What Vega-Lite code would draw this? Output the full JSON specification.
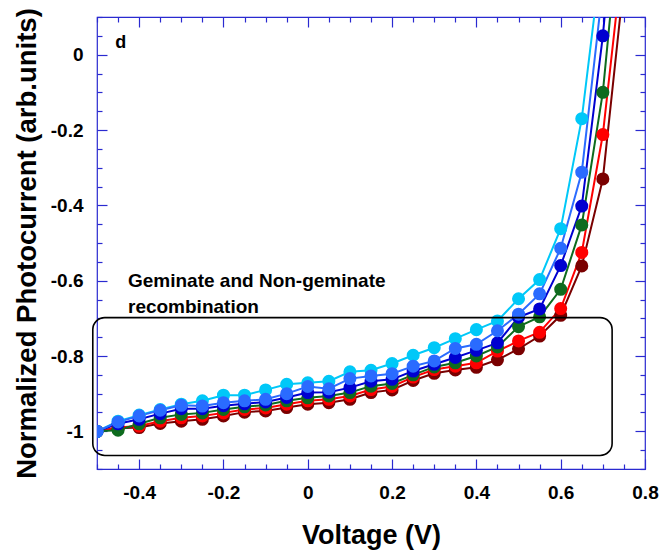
{
  "$schema": "https://vega.github.io/schema/vega-lite/v6.json",
  "width": 548,
  "height": 452,
  "autosize": {"type": "none"},
  "padding": {"left": 97, "top": 17, "right": 19, "bottom": 85},
  "background": "white",
  "config": {
    "view": {"stroke": "#2a2ad0", "strokeWidth": 1.2},
    "font": "Liberation Sans",
    "axis": {"domain": false, "grid": false, "ticks": true, "zindex": 1, "tickColor": "#2a2ad0", "tickWidth": 1.2, "labelFlush": false, "labelOverlap": false}
  },
  "datasets": {
    "curves": [
      {"s":"dr","v":-0.5,"j":-1.0},{"s":"dr","v":-0.45,"j":-0.992},{"s":"dr","v":-0.4,"j":-0.99},{"s":"dr","v":-0.35,"j":-0.979},{"s":"dr","v":-0.3,"j":-0.973},{"s":"dr","v":-0.25,"j":-0.968},{"s":"dr","v":-0.2,"j":-0.959},{"s":"dr","v":-0.15,"j":-0.949},{"s":"dr","v":-0.1,"j":-0.946},{"s":"dr","v":-0.05,"j":-0.937},{"s":"dr","v":0,"j":-0.928},{"s":"dr","v":0.05,"j":-0.924},{"s":"dr","v":0.1,"j":-0.915},{"s":"dr","v":0.15,"j":-0.897},{"s":"dr","v":0.2,"j":-0.89},{"s":"dr","v":0.25,"j":-0.865},{"s":"dr","v":0.3,"j":-0.846},{"s":"dr","v":0.35,"j":-0.837},{"s":"dr","v":0.4,"j":-0.83},{"s":"dr","v":0.45,"j":-0.81},{"s":"dr","v":0.5,"j":-0.781},{"s":"dr","v":0.55,"j":-0.747},{"s":"dr","v":0.6,"j":-0.692},{"s":"dr","v":0.65,"j":-0.561},{"s":"dr","v":0.7,"j":-0.33},{"s":"dr","v":0.75,"j":0.195},
      {"s":"r","v":-0.5,"j":-1.0},{"s":"r","v":-0.45,"j":-0.99},{"s":"r","v":-0.4,"j":-0.986},{"s":"r","v":-0.35,"j":-0.973},{"s":"r","v":-0.3,"j":-0.964},{"s":"r","v":-0.25,"j":-0.959},{"s":"r","v":-0.2,"j":-0.951},{"s":"r","v":-0.15,"j":-0.942},{"s":"r","v":-0.1,"j":-0.938},{"s":"r","v":-0.05,"j":-0.928},{"s":"r","v":0,"j":-0.919},{"s":"r","v":0.05,"j":-0.915},{"s":"r","v":0.1,"j":-0.906},{"s":"r","v":0.15,"j":-0.889},{"s":"r","v":0.2,"j":-0.881},{"s":"r","v":0.25,"j":-0.856},{"s":"r","v":0.3,"j":-0.836},{"s":"r","v":0.35,"j":-0.827},{"s":"r","v":0.4,"j":-0.818},{"s":"r","v":0.45,"j":-0.787},{"s":"r","v":0.5,"j":-0.76},{"s":"r","v":0.55,"j":-0.737},{"s":"r","v":0.6,"j":-0.674},{"s":"r","v":0.65,"j":-0.525},{"s":"r","v":0.7,"j":-0.212},{"s":"r","v":0.75,"j":0.29},
      {"s":"g","v":-0.5,"j":-1.0},{"s":"g","v":-0.45,"j":-0.997},{"s":"g","v":-0.4,"j":-0.98},{"s":"g","v":-0.35,"j":-0.964},{"s":"g","v":-0.3,"j":-0.955},{"s":"g","v":-0.25,"j":-0.951},{"s":"g","v":-0.2,"j":-0.942},{"s":"g","v":-0.15,"j":-0.935},{"s":"g","v":-0.1,"j":-0.93},{"s":"g","v":-0.05,"j":-0.919},{"s":"g","v":0,"j":-0.911},{"s":"g","v":0.05,"j":-0.906},{"s":"g","v":0.1,"j":-0.897},{"s":"g","v":0.15,"j":-0.88},{"s":"g","v":0.2,"j":-0.873},{"s":"g","v":0.25,"j":-0.85},{"s":"g","v":0.3,"j":-0.829},{"s":"g","v":0.35,"j":-0.818},{"s":"g","v":0.4,"j":-0.8},{"s":"g","v":0.45,"j":-0.776},{"s":"g","v":0.5,"j":-0.722},{"s":"g","v":0.55,"j":-0.696},{"s":"g","v":0.6,"j":-0.623},{"s":"g","v":0.65,"j":-0.452},{"s":"g","v":0.7,"j":-0.1},{"s":"g","v":0.75,"j":0.48},
      {"s":"b","v":-0.5,"j":-1.0},{"s":"b","v":-0.45,"j":-0.98},{"s":"b","v":-0.4,"j":-0.968},{"s":"b","v":-0.35,"j":-0.953},{"s":"b","v":-0.3,"j":-0.94},{"s":"b","v":-0.25,"j":-0.94},{"s":"b","v":-0.2,"j":-0.932},{"s":"b","v":-0.15,"j":-0.927},{"s":"b","v":-0.1,"j":-0.922},{"s":"b","v":-0.05,"j":-0.91},{"s":"b","v":0,"j":-0.897},{"s":"b","v":0.05,"j":-0.896},{"s":"b","v":0.1,"j":-0.884},{"s":"b","v":0.15,"j":-0.867},{"s":"b","v":0.2,"j":-0.862},{"s":"b","v":0.25,"j":-0.84},{"s":"b","v":0.3,"j":-0.822},{"s":"b","v":0.35,"j":-0.804},{"s":"b","v":0.4,"j":-0.785},{"s":"b","v":0.45,"j":-0.765},{"s":"b","v":0.5,"j":-0.697},{"s":"b","v":0.55,"j":-0.675},{"s":"b","v":0.6,"j":-0.56},{"s":"b","v":0.65,"j":-0.402},{"s":"b","v":0.7,"j":0.05},{"s":"b","v":0.75,"j":0.66},
      {"s":"c","v":-0.5,"j":-1.0},{"s":"c","v":-0.45,"j":-0.973},{"s":"c","v":-0.4,"j":-0.957},{"s":"c","v":-0.35,"j":-0.942},{"s":"c","v":-0.3,"j":-0.928},{"s":"c","v":-0.25,"j":-0.919},{"s":"c","v":-0.2,"j":-0.904},{"s":"c","v":-0.15,"j":-0.904},{"s":"c","v":-0.1,"j":-0.89},{"s":"c","v":-0.05,"j":-0.875},{"s":"c","v":0,"j":-0.871},{"s":"c","v":0.05,"j":-0.867},{"s":"c","v":0.1,"j":-0.842},{"s":"c","v":0.15,"j":-0.838},{"s":"c","v":0.2,"j":-0.82},{"s":"c","v":0.25,"j":-0.798},{"s":"c","v":0.3,"j":-0.778},{"s":"c","v":0.35,"j":-0.754},{"s":"c","v":0.4,"j":-0.73},{"s":"c","v":0.45,"j":-0.707},{"s":"c","v":0.5,"j":-0.648},{"s":"c","v":0.55,"j":-0.597},{"s":"c","v":0.6,"j":-0.462},{"s":"c","v":0.65,"j":-0.17},{"s":"c","v":0.7,"j":0.29},
      {"s":"m","v":-0.5,"j":-1.0},{"s":"m","v":-0.45,"j":-0.975},{"s":"m","v":-0.4,"j":-0.959},{"s":"m","v":-0.35,"j":-0.944},{"s":"m","v":-0.3,"j":-0.931},{"s":"m","v":-0.25,"j":-0.933},{"s":"m","v":-0.2,"j":-0.924},{"s":"m","v":-0.15,"j":-0.919},{"s":"m","v":-0.1,"j":-0.915},{"s":"m","v":-0.05,"j":-0.9},{"s":"m","v":0,"j":-0.881},{"s":"m","v":0.05,"j":-0.887},{"s":"m","v":0.1,"j":-0.86},{"s":"m","v":0.15,"j":-0.853},{"s":"m","v":0.2,"j":-0.847},{"s":"m","v":0.25,"j":-0.827},{"s":"m","v":0.3,"j":-0.813},{"s":"m","v":0.35,"j":-0.78},{"s":"m","v":0.4,"j":-0.769},{"s":"m","v":0.45,"j":-0.733},{"s":"m","v":0.5,"j":-0.689},{"s":"m","v":0.55,"j":-0.635},{"s":"m","v":0.6,"j":-0.514},{"s":"m","v":0.65,"j":-0.312},{"s":"m","v":0.7,"j":0.18}
    ],
    "one": [{}]
  },
  "resolve": {"axis": {"x": "independent", "y": "independent"}},
  "layer": [
    {
      "data": {"name": "curves"},
      "mark": {"type": "line", "clip": true, "strokeWidth": 2},
      "encoding": {
        "x": {
          "field": "v", "type": "quantitative",
          "scale": {"domain": [-0.5, 0.8], "nice": false, "zero": false},
          "axis": {
            "orient": "bottom", "offset": -10,
            "values": [-0.4,-0.2,0,0.2,0.4,0.6,0.8],
            "tickSize": 10,
            "labelExpr": "(round(datum.value*10)/10)+''",
            "labelFontSize": 19, "labelFontWeight": "bold", "labelColor": "black",
            "labelPadding": 14,
            "title": "Voltage (V)", "titleFontSize": 27, "titleFontWeight": "bold", "titleColor": "black",
            "titleY": 84, "titleBaseline": "alphabetic"
          }
        },
        "y": {
          "field": "j", "type": "quantitative",
          "scale": {"domain": [-1.1, 0.1], "nice": false, "zero": false},
          "axis": {
            "orient": "left", "offset": -10,
            "values": [-1,-0.8,-0.6,-0.4,-0.2,0],
            "tickSize": 10,
            "labelExpr": "(round(datum.value*10)/10)+''",
            "labelFontSize": 19, "labelFontWeight": "bold", "labelColor": "black",
            "labelPadding": 14,
            "title": "Normalized Photocurrent (arb.units)", "titleFontSize": 27.5, "titleFontWeight": "bold", "titleColor": "black",
            "titleX": -72, "titleY": 226, "titleAngle": -90, "titleBaseline": "alphabetic", "titleAlign": "center"
          }
        },
        "color": {
          "field": "s", "type": "nominal",
          "scale": {"domain": ["dr","r","g","b","c","m"], "range": ["#7a0000","#ff0000","#0e6b1e","#0000d0","#00c8f8","#2a6bff"]},
          "legend": null
        }
      }
    },
    {
      "data": {"name": "curves"},
      "mark": {"type": "point", "filled": true, "size": 170, "opacity": 1, "clip": true},
      "encoding": {
        "x": {
          "field": "v", "type": "quantitative",
          "scale": {"domain": [-0.5, 0.8], "nice": false, "zero": false},
          "axis": {"orient": "top", "offset": -10, "values": [-0.4,-0.2,0,0.2,0.4,0.6,0.8], "tickSize": 10, "labels": false, "title": null}
        },
        "y": {
          "field": "j", "type": "quantitative",
          "scale": {"domain": [-1.1, 0.1], "nice": false, "zero": false},
          "axis": {"orient": "right", "offset": -10, "values": [-1,-0.8,-0.6,-0.4,-0.2,0], "tickSize": 10, "labels": false, "title": null}
        },
        "color": {
          "field": "s", "type": "nominal",
          "scale": {"domain": ["dr","r","g","b","c","m"], "range": ["#7a0000","#ff0000","#0e6b1e","#0000d0","#00c8f8","#2a6bff"]},
          "legend": null
        }
      }
    },
    {
      "data": {"name": "one"},
      "mark": {"type": "rect", "fillOpacity": 0, "stroke": "black", "strokeWidth": 1.6, "cornerRadius": 12},
      "encoding": {
        "x": {"datum": -0.51, "type": "quantitative", "scale": {"domain": [-0.5, 0.8], "nice": false, "zero": false},
          "axis": {"orient": "bottom", "offset": -5, "values": [-0.5,-0.45,-0.35,-0.3,-0.25,-0.15,-0.1,-0.05,0.05,0.1,0.15,0.25,0.3,0.35,0.45,0.5,0.55,0.65,0.7,0.75], "tickSize": 5, "labels": false, "title": null}},
        "x2": {"datum": 0.722},
        "y": {"datum": -0.698, "type": "quantitative", "scale": {"domain": [-1.1, 0.1], "nice": false, "zero": false},
          "axis": {"orient": "left", "offset": -5, "values": [-1.1,-1.05,-0.95,-0.9,-0.85,-0.75,-0.7,-0.65,-0.55,-0.5,-0.45,-0.35,-0.3,-0.25,-0.15,-0.1,-0.05,0.05,0.1], "tickSize": 5, "labels": false, "title": null}},
        "y2": {"datum": -1.064}
      }
    },
    {
      "data": {"name": "one"},
      "mark": {"type": "text", "text": "Geminate and Non-geminate", "align": "left", "baseline": "alphabetic", "fontSize": 19, "fontWeight": "bold", "color": "black"},
      "encoding": {
        "x": {"datum": -0.4265, "type": "quantitative", "scale": {"domain": [-0.5, 0.8], "nice": false, "zero": false},
          "axis": {"orient": "top", "offset": -5, "values": [-0.5,-0.45,-0.35,-0.3,-0.25,-0.15,-0.1,-0.05,0.05,0.1,0.15,0.25,0.3,0.35,0.45,0.5,0.55,0.65,0.7,0.75], "tickSize": 5, "labels": false, "title": null}},
        "y": {"datum": -0.618, "type": "quantitative", "scale": {"domain": [-1.1, 0.1], "nice": false, "zero": false},
          "axis": {"orient": "right", "offset": -5, "values": [-1.1,-1.05,-0.95,-0.9,-0.85,-0.75,-0.7,-0.65,-0.55,-0.5,-0.45,-0.35,-0.3,-0.25,-0.15,-0.1,-0.05,0.05,0.1], "tickSize": 5, "labels": false, "title": null}}
      }
    },
    {
      "data": {"name": "one"},
      "mark": {"type": "text", "text": "recombination", "align": "left", "baseline": "alphabetic", "fontSize": 19, "fontWeight": "bold", "color": "black"},
      "encoding": {
        "x": {"datum": -0.4265, "type": "quantitative", "scale": {"domain": [-0.5, 0.8], "nice": false, "zero": false}, "axis": null},
        "y": {"datum": -0.687, "type": "quantitative", "scale": {"domain": [-1.1, 0.1], "nice": false, "zero": false}, "axis": null}
      }
    },
    {
      "data": {"name": "one"},
      "mark": {"type": "text", "text": "d", "align": "left", "baseline": "alphabetic", "fontSize": 18, "fontWeight": "bold", "color": "black"},
      "encoding": {
        "x": {"datum": -0.457, "type": "quantitative", "scale": {"domain": [-0.5, 0.8], "nice": false, "zero": false}, "axis": null},
        "y": {"datum": 0.0186, "type": "quantitative", "scale": {"domain": [-1.1, 0.1], "nice": false, "zero": false}, "axis": null}
      }
    }
  ]
}
